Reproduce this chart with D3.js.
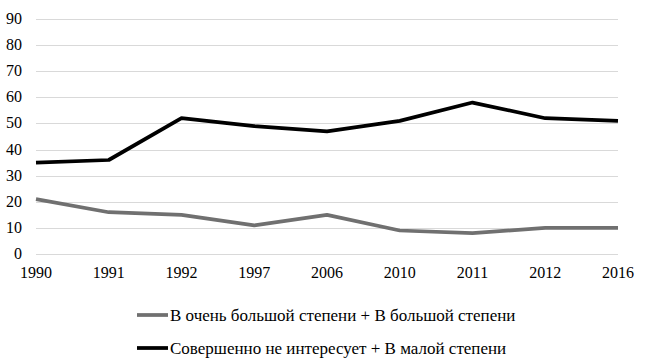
<!DOCTYPE html>
<html>
<head>
<meta charset="utf-8">
<script src="https://cdn.jsdelivr.net/npm/d3@7"></script>
<style>
  body { margin: 0; background: #fff; }
  #chart { position: relative; width: 650px; height: 362px; }
  #chart svg { position: absolute; left: 0; top: 0; }
  .lbl {
    position: absolute;
    line-height: 1;
    color: #000;
    white-space: nowrap;
  }
</style>
</head>
<body>
<div id="chart"></div>
<script>
const years = ["1990", "1991", "1992", "1997", "2006", "2010", "2011", "2012", "2016"];
const highInterest = [21, 16, 15, 11, 15, 9, 8, 10, 10];
const lowInterest = [35, 36, 52, 49, 47, 51, 58, 52, 51];
const yTicks = [0, 10, 20, 30, 40, 50, 60, 70, 80, 90];
const seriesNames = [
    "В очень большой степени + В большой степени",
    "Совершенно не интересует + В малой степени"
];

const width = 650;
const height = 362;

const x = d3.scalePoint()
    .domain(years)
    .range([36, 618]);

const y = d3.scaleLinear()
    .domain([0, 90])
    .range([254, 19]);

const chart = d3.select("#chart");

const svg = chart.append("svg")
    .attr("width", width)
    .attr("height", height);

// gridlines
svg.append("g")
    .selectAll("line")
    .data(yTicks)
    .enter().append("line")
    .attr("x1", x.range()[0])
    .attr("x2", x.range()[1])
    .attr("y1", d => Math.round(y(d)) + 0.5)
    .attr("y2", d => Math.round(y(d)) + 0.5)
    .attr("stroke", "#d9d9d9")
    .attr("stroke-width", 1);

// y labels (html text so the serif font is used)
chart.selectAll(".ylbl")
    .data(yTicks)
    .enter().append("div")
    .attr("class", "lbl ylbl")
    .style("font", "16px 'Liberation Serif'")
    .style("right", (width - 22) + "px")
    .style("top", d => y(d) + "px")
    .style("transform", "translateY(-50%)")
    .text(d => d);

// x labels
chart.selectAll(".xlbl")
    .data(years)
    .enter().append("div")
    .attr("class", "lbl xlbl")
    .style("font", "16px 'Liberation Serif'")
    .style("left", d => x(d) + "px")
    .style("top", "273px")
    .style("transform", "translate(-50%,-50%)")
    .text(d => d);

const line = d3.line()
    .x((d, i) => x(years[i]))
    .y(d => y(d));

const series = [
    { name: seriesNames[0], values: highInterest, color: "#707070" },
    { name: seriesNames[1], values: lowInterest, color: "#000000" }
];

svg.append("g")
    .selectAll("path")
    .data(series)
    .enter().append("path")
    .attr("d", d => line(d.values))
    .attr("fill", "none")
    .attr("stroke", d => d.color)
    .attr("stroke-width", 3.75)
    .attr("stroke-linejoin", "round");

// legend
svg.append("g")
    .selectAll("line")
    .data(series)
    .enter().append("line")
    .attr("x1", 137)
    .attr("x2", 168)
    .attr("y1", (d, i) => 315 + i * 33)
    .attr("y2", (d, i) => 315 + i * 33)
    .attr("stroke", d => d.color)
    .attr("stroke-width", 3.75);

chart.selectAll(".leg")
    .data(series)
    .enter().append("div")
    .attr("class", "lbl leg")
    .style("font", "17px 'Liberation Serif'")
    .style("left", "170px")
    .style("top", (d, i) => (316 + i * 33) + "px")
    .style("transform", "translateY(-50%)")
    .text(d => d.name);
</script>
</body>
</html>
